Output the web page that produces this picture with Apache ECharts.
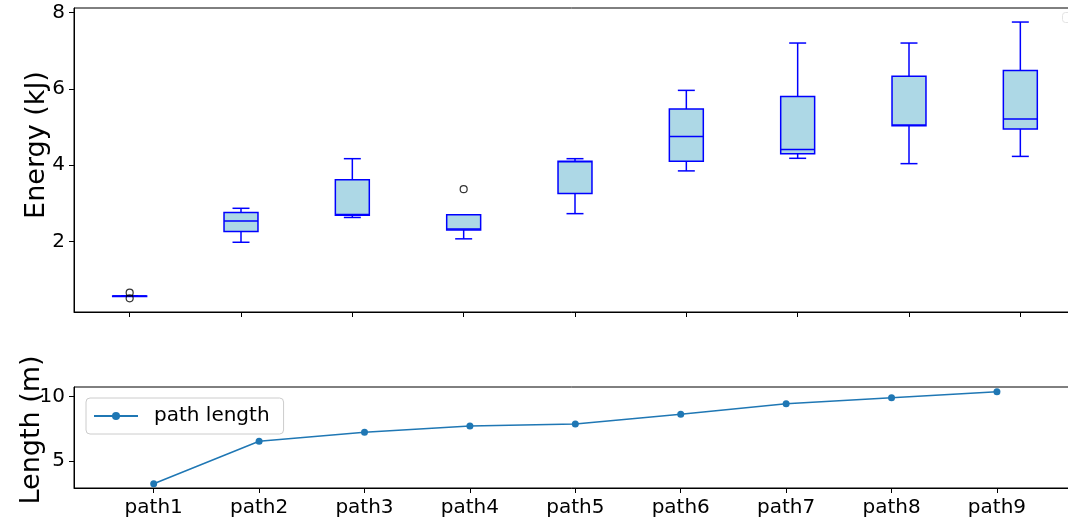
<!DOCTYPE html>
<html>
<head>
<meta charset="utf-8">
<script src="https://cdn.jsdelivr.net/npm/echarts@6/dist/echarts.min.js"></script>
<style>html,body{margin:0;padding:0;background:#fff}#c{width:1068px;height:520px}</style>
</head>
<body>
<div id="c"></div>
<script>
// ---- data ----
const categories = ['path1', 'path2', 'path3', 'path4', 'path5', 'path6', 'path7', 'path8', 'path9'];
const boxMin    = [0.565, 1.98, 2.63, 2.07, 2.73, 3.85, 4.18, 4.04, 4.23];
const boxQ1     = [0.568, 2.26, 2.69, 2.30, 3.26, 4.10, 4.30, 5.03, 4.95];
const boxMedian = [0.572, 2.54, 2.71, 2.33, 4.09, 4.75, 4.41, 5.05, 5.21];
const boxQ3     = [0.575, 2.76, 3.62, 2.70, 4.10, 5.47, 5.80, 6.33, 6.48];
const boxMax    = [0.578, 2.87, 4.17, 2.70, 4.17, 5.96, 7.20, 7.20, 7.75];
const outlierPath  = [0, 0, 3];
const outlierValue = [0.66, 0.51, 3.37];
const pathLength = [3.23, 6.53, 7.23, 7.72, 7.87, 8.63, 9.45, 9.92, 10.39];
const energyTicks = [2, 4, 6, 8];
const lengthTicks = [5, 10];
const lengthXTicks = [0, 1, 2, 3, 4, 5, 6, 7, 8];

const FONT = 'DejaVu Sans';
const chart = echarts.init(document.getElementById('c'), null, {renderer: 'canvas'});

const boxData = categories.map((c, i) => [i, boxMin[i], boxQ1[i], boxMedian[i], boxQ3[i], boxMax[i]]);
const outlierData = outlierPath.map((p, i) => [p, outlierValue[i]]);
const lineData = pathLength.map((v, i) => [i, v]);

const BLUE = '#0000ff';
function renderBox(params, api) {
  const i = api.value(0);
  const pMin = api.coord([i, api.value(1)]);
  const pQ1 = api.coord([i, api.value(2)]);
  const pMed = api.coord([i, api.value(3)]);
  const pQ3 = api.coord([i, api.value(4)]);
  const pMax = api.coord([i, api.value(5)]);
  const bw = api.size([1, 0])[0] * 0.305;
  const cx = pMed[0];
  const ls = {stroke: BLUE, lineWidth: 1.5, fill: null};
  return {
    type: 'group',
    children: [
      {type: 'line', shape: {x1: cx, y1: pQ1[1], x2: cx, y2: pMin[1]}, style: ls},
      {type: 'line', shape: {x1: cx, y1: pQ3[1], x2: cx, y2: pMax[1]}, style: ls},
      {type: 'line', shape: {x1: cx - bw / 4, y1: pMin[1], x2: cx + bw / 4, y2: pMin[1]}, style: ls},
      {type: 'line', shape: {x1: cx - bw / 4, y1: pMax[1], x2: cx + bw / 4, y2: pMax[1]}, style: ls},
      {type: 'rect', shape: {x: cx - bw / 2, y: pQ3[1], width: bw, height: Math.max(pQ1[1] - pQ3[1], 0.5)},
        style: {fill: '#add8e6', stroke: BLUE, lineWidth: 1.5}},
      {type: 'line', shape: {x1: cx - bw / 2, y1: pMed[1], x2: cx + bw / 2, y2: pMed[1]}, style: ls}
    ]
  };
}

const axisLine = {show: true, onZero: false, lineStyle: {color: '#000', width: 1}};
const axisTick = {show: true, length: 5, lineStyle: {color: '#000', width: 1}};
const labelStyle = {color: '#000', fontSize: 20, fontFamily: FONT};

const option = {
  animation: false,
  backgroundColor: '#fff',
  grid: [
    {left: 74, top: 8, width: 1002, height: 304, outerBoundsMode: 'none', containLabel: false,
      show: true, borderColor: '#000', borderWidth: 1, backgroundColor: 'transparent'},
    {left: 74, top: 387, width: 1002, height: 101, outerBoundsMode: 'none', containLabel: false,
      show: true, borderColor: '#000', borderWidth: 1, backgroundColor: 'transparent'}
  ],
  xAxis: [
    {type: 'category', gridIndex: 0, data: categories, boundaryGap: true,
      axisLine: axisLine, axisTick: Object.assign({alignWithLabel: true}, axisTick),
      axisLabel: {show: false}, splitLine: {show: false}},
    {type: 'value', gridIndex: 1, min: -0.756, max: 8.75,
      axisLine: axisLine,
      axisTick: Object.assign({customValues: lengthXTicks}, axisTick),
      axisLabel: Object.assign({customValues: lengthXTicks, margin: 10,
        formatter: v => categories[Math.round(v)] || ''}, labelStyle),
      splitLine: {show: false}}
  ],
  yAxis: [
    {type: 'value', gridIndex: 0, min: 0.153, max: 8.118,
      axisLine: axisLine,
      axisTick: Object.assign({customValues: energyTicks}, axisTick),
      axisLabel: Object.assign({customValues: energyTicks, margin: 9}, labelStyle),
      splitLine: {show: false}},
    {type: 'value', gridIndex: 1, min: 2.90, max: 10.754,
      axisLine: axisLine,
      axisTick: Object.assign({customValues: lengthTicks}, axisTick),
      axisLabel: Object.assign({customValues: lengthTicks, margin: 9}, labelStyle),
      splitLine: {show: false}}
  ],
  legend: {
    data: [{name: 'path length'}],
    left: 86, top: 398,
    padding: [8, 14, 8, 7],
    itemWidth: 44, itemHeight: 10,
    backgroundColor: 'rgba(255,255,255,0.8)',
    borderColor: '#cccccc', borderWidth: 1, borderRadius: 4,
    textStyle: {color: '#000', fontSize: 20, fontFamily: FONT, padding: [0, 0, 0, 11]}
  },
  series: [
    {type: 'custom', name: 'energy', xAxisIndex: 0, yAxisIndex: 0, data: boxData,
      renderItem: renderBox, encode: {x: 0, y: [1, 2, 3, 4, 5]}, z: 2},
    {type: 'scatter', name: 'outliers', xAxisIndex: 0, yAxisIndex: 0, data: outlierData,
      symbol: 'circle', symbolSize: 7,
      itemStyle: {color: 'rgba(0,0,0,0)', borderColor: '#000', borderWidth: 1.2}, z: 3},
    {type: 'line', name: 'path length', xAxisIndex: 1, yAxisIndex: 1, data: lineData,
      symbol: 'circle', symbolSize: 7, showSymbol: true,
      lineStyle: {color: '#1f77b4', width: 1.5},
      itemStyle: {color: '#1f77b4', borderWidth: 0}}
  ],
  graphic: [
    {type: 'text', x: 37, y: 145, rotation: Math.PI / 2,
      style: {text: 'Energy (kJ)', font: '27px "DejaVu Sans"', fill: '#000', textAlign: 'center', textVerticalAlign: 'middle'}},
    {type: 'text', x: 32, y: 430, rotation: Math.PI / 2,
      style: {text: 'Length (m)', font: '27px "DejaVu Sans"', fill: '#000', textAlign: 'center', textVerticalAlign: 'middle'}},
    {type: 'rect', shape: {x: 1062.5, y: 12.5, width: 30, height: 10, r: 3},
      style: {fill: '#fff', stroke: '#e3e3e3', lineWidth: 1}}
  ]
};
chart.setOption(option);
</script>
</body>
</html>
